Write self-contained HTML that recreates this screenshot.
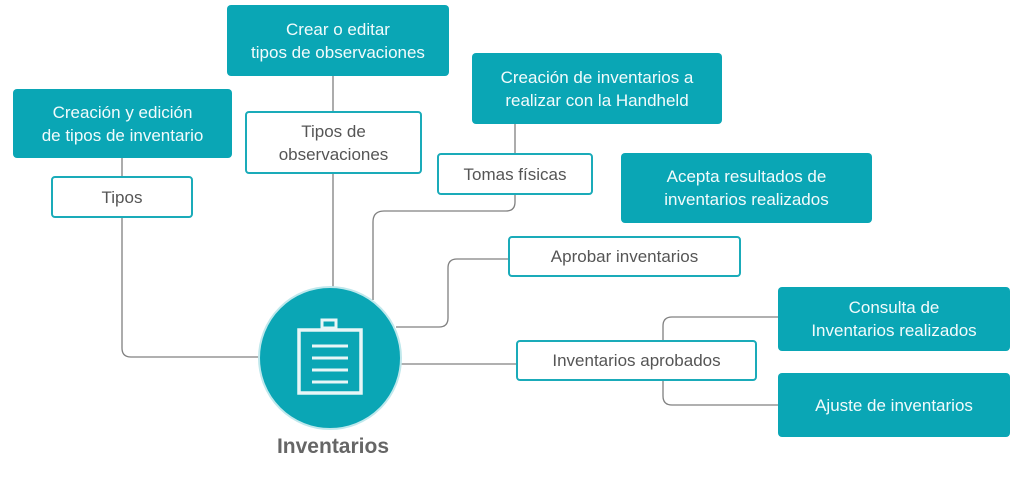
<!DOCTYPE html>
<html><head><meta charset="utf-8"><style>
body{margin:0;width:1024px;height:494px;background:#fff;position:relative;overflow:hidden;font-family:"Liberation Sans",sans-serif}
.b{position:absolute;box-sizing:border-box;display:flex;align-items:center;justify-content:center;text-align:center;font-size:17px;line-height:23px;border-radius:4px}
.t{background:#0aa6b5;color:#f2fbfc}
.w{background:#fff;border:2px solid #1aabb9;color:#555}
svg{position:absolute;left:0;top:0}
</style></head><body>
<svg width="1024" height="494">
<g fill="none" stroke="#808080" stroke-width="1.3">
<path d="M122 158V176M122 218V348Q122 357 131 357H262"/>
<path d="M333 76V111M333 174V290"/>
<path d="M515 124V153M515 195V202Q515 211 506 211H384Q373 211 373 222V300"/>
<path d="M508 259H457Q448 259 448 268V318Q448 327 439 327H396"/>
<path d="M400 364H516"/>
<path d="M778 317H672Q663 317 663 326V396Q663 405 672 405H778"/>
</g>
<circle cx="330" cy="358" r="71" fill="#0aa6b5" stroke="#bfe8ec" stroke-width="2"/>
<g fill="none" stroke="#e8f6f7" stroke-width="3.5">
<rect x="299" y="330" width="62" height="63"/>
<rect x="322" y="320" width="14" height="8" stroke-width="3"/>
</g>
<g stroke="#e8f6f7" stroke-width="3">
<line x1="312" y1="346" x2="348" y2="346"/><line x1="312" y1="358" x2="348" y2="358"/>
<line x1="312" y1="370" x2="348" y2="370"/><line x1="312" y1="382" x2="348" y2="382"/>
</g>
</svg>
<div class="b t" style="left:13px;top:89px;width:219px;height:69px">Creación y edición<br>de tipos de inventario</div>
<div class="b w" style="left:51px;top:176px;width:142px;height:42px">Tipos</div>
<div class="b t" style="left:227px;top:5px;width:222px;height:71px">Crear o editar<br>tipos de observaciones</div>
<div class="b w" style="left:245px;top:111px;width:177px;height:63px">Tipos de<br>observaciones</div>
<div class="b t" style="left:472px;top:53px;width:250px;height:71px">Creación de inventarios a<br>realizar con la Handheld</div>
<div class="b w" style="left:437px;top:153px;width:156px;height:42px">Tomas físicas</div>
<div class="b t" style="left:621px;top:153px;width:251px;height:70px">Acepta resultados de<br>inventarios realizados</div>
<div class="b w" style="left:508px;top:236px;width:233px;height:41px">Aprobar inventarios</div>
<div class="b t" style="left:778px;top:287px;width:232px;height:64px">Consulta de<br>Inventarios realizados</div>
<div class="b w" style="left:516px;top:340px;width:241px;height:41px">Inventarios aprobados</div>
<div class="b t" style="left:778px;top:373px;width:232px;height:64px">Ajuste de inventarios</div>
<div style="position:absolute;left:233px;top:435px;width:200px;text-align:center;font-size:21px;font-weight:bold;color:#666">Inventarios</div>
</body></html>
